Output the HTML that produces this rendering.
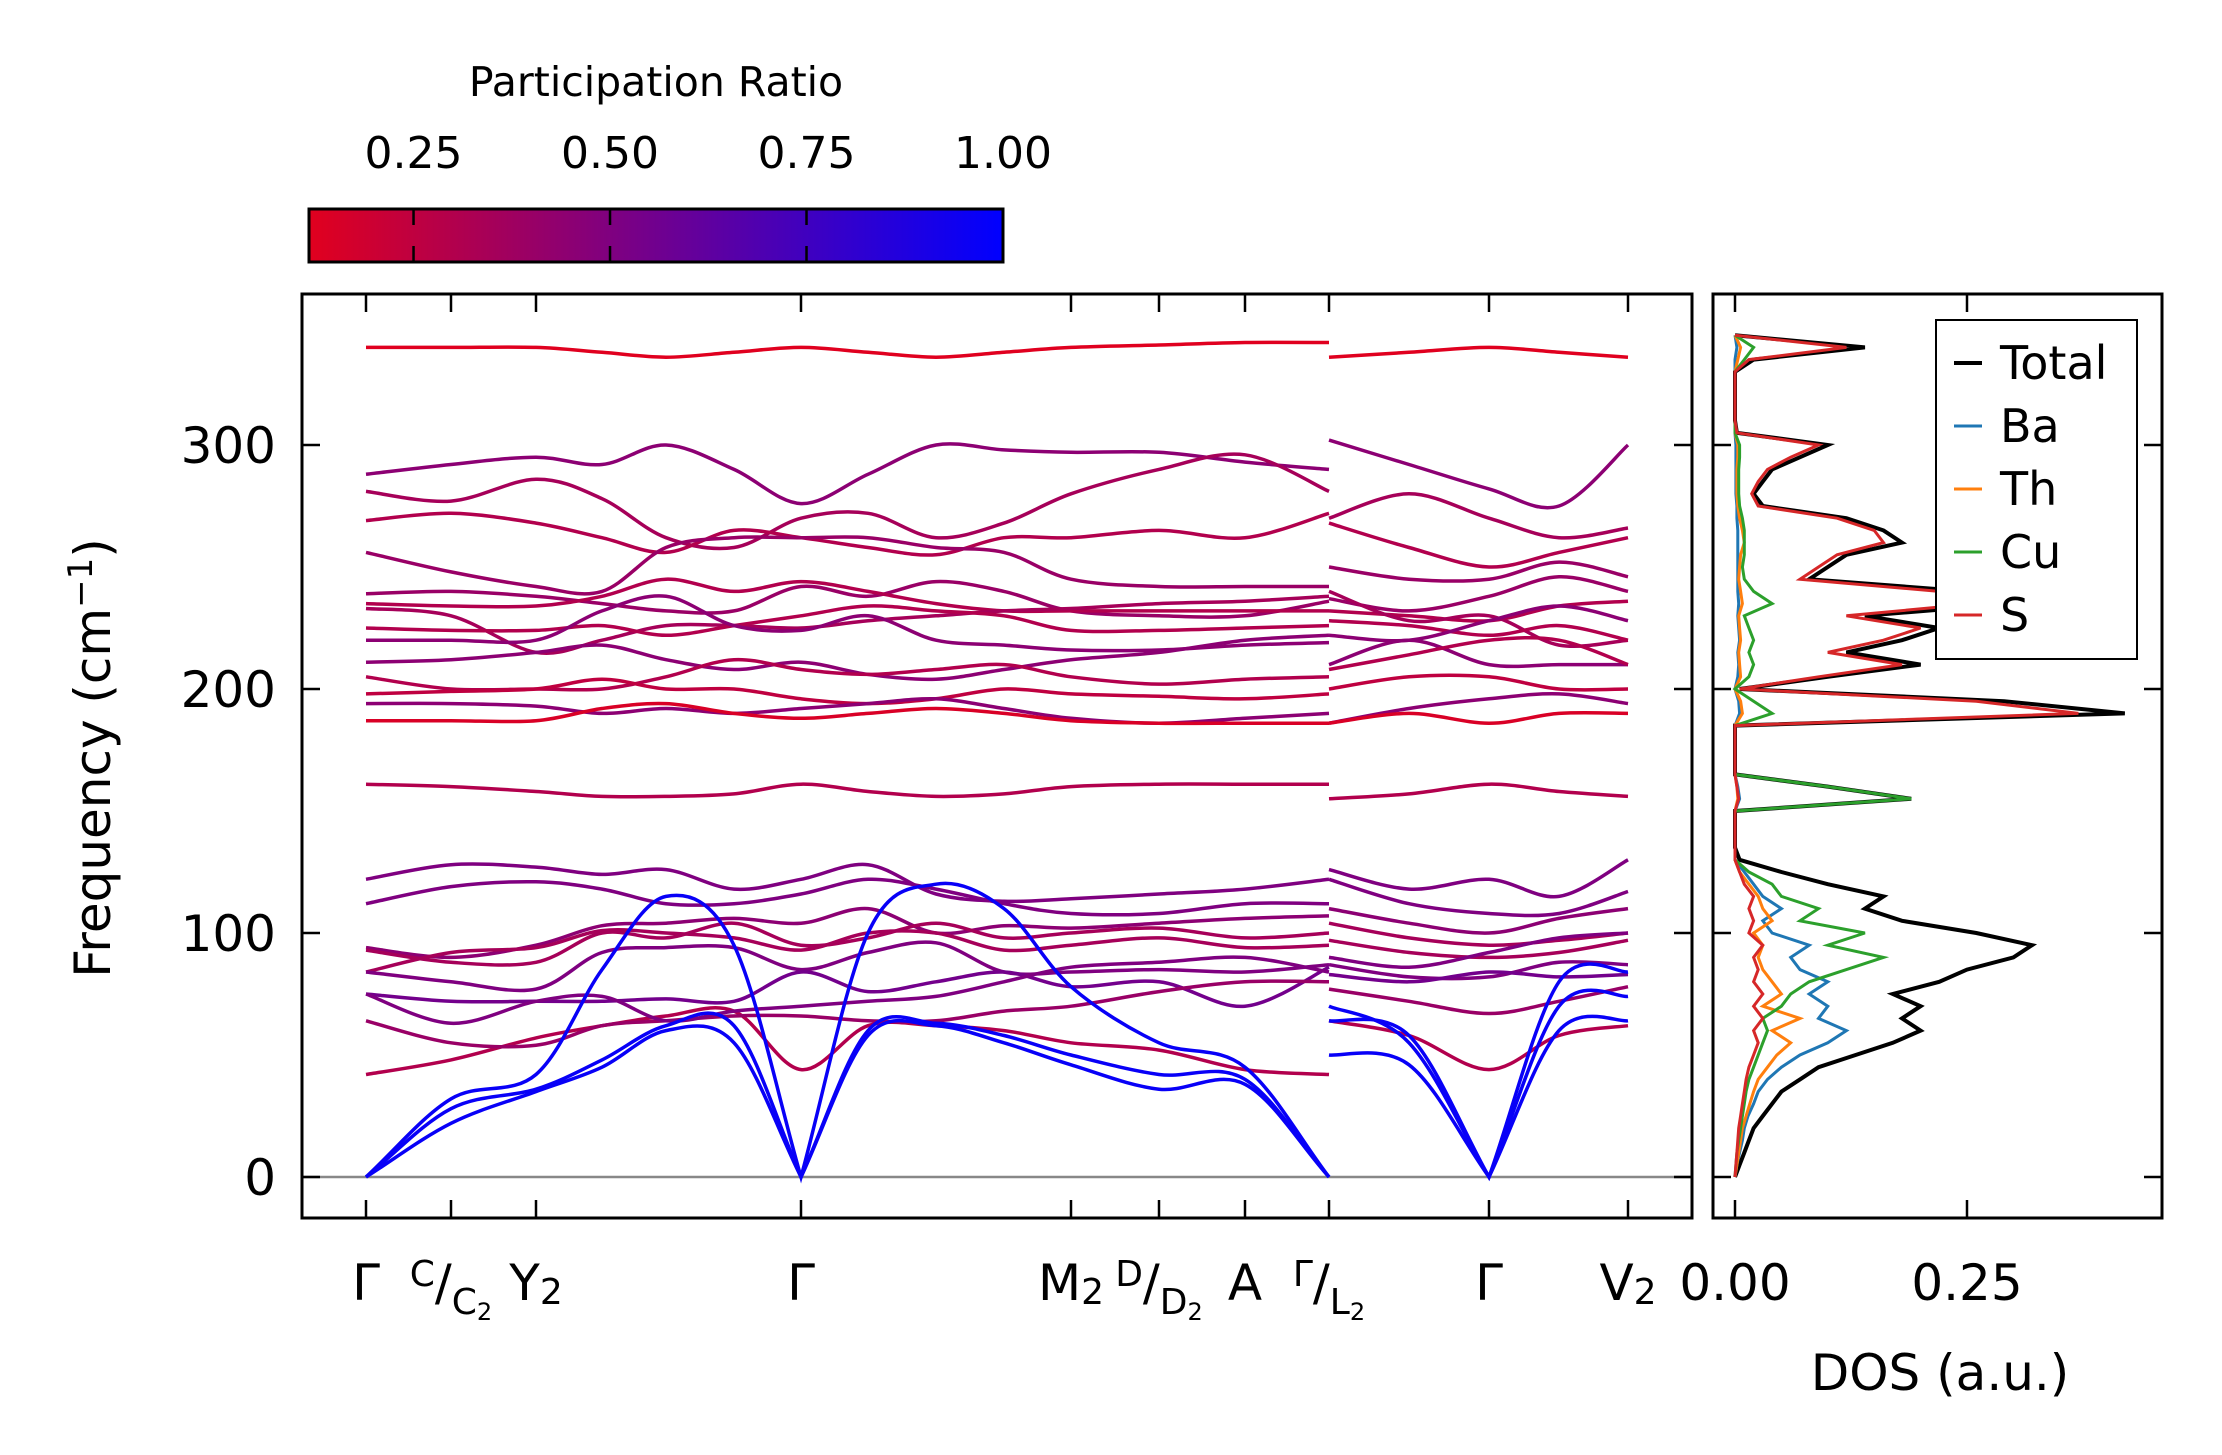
<!DOCTYPE html>
<html><head><meta charset="utf-8"><style>
html,body{margin:0;padding:0;background:#fff;}
svg{display:block;font-family:"DejaVu Sans","Liberation Sans",sans-serif;}
</style></head><body>
<svg id="chart" width="2222" height="1455" viewBox="0 0 2222 1455" xmlns="http://www.w3.org/2000/svg">
<defs>
<linearGradient id="cmap" x1="0" x2="1" y1="0" y2="0">
<stop offset="0" stop-color="rgb(225,0,30)"/><stop offset="1" stop-color="rgb(0,0,255)"/>
</linearGradient>
</defs>
<g id="colorbar">
<text x="656" y="96" font-size="41" text-anchor="middle">Participation Ratio</text>
<rect x="309" y="209" width="694" height="53" fill="url(#cmap)" stroke="#000" stroke-width="3"/>
<g id="cbticks"></g>
</g>
<g id="main"></g>
<g id="dos"></g>
</svg>
<script>
// ---- data ----
const cbTicks = [0.25, 0.50, 0.75, 1.00];
const yTicks = [0, 100, 200, 300];
const kLabels = ["Γ","C/C2","Y2","Γ","M2","D/D2","A","Γ/L2","Γ","V2"];
const kTickPos = [0, 1, 2, 6, 10, 11, 12, 13, 16, 18]; // sample index of each label
// sample columns: 0..13 left path, 14..18 right path (14 same k as 13)
const bandPR = [0.12,0.45,0.35,0.3,0.4,0.4,0.3,0.35,0.3,0.45,0.45,0.3,0.25,0.45,0.15,0.3,0.5,0.5,0.45,0.35,0.35,0.5,0.55,0.3,0.4,0.5,0.97,0.97,0.97];
const bandFreq = [
[340,340,340,338,336,338,340,338,336,338,340,341,342,342,336,338,340,338,336],
[288,292,295,292,300,290,276,288,300,298,297,297,293,290,302,292,282,275,300],
[281,277,286,278,262,258,270,272,262,268,280,290,296,281,270,280,270,262,266],
[269,272,268,262,256,265,262,258,255,262,262,265,262,272,268,258,250,256,262],
[256,248,242,240,258,262,262,262,258,256,245,242,242,242,250,245,245,252,246],
[239,240,238,235,232,232,242,238,244,240,232,230,230,236,237,232,238,246,240],
[235,234,234,238,245,240,244,240,235,232,232,232,232,232,232,230,228,234,236],
[233,230,215,220,226,226,225,228,230,232,233,235,236,238,240,228,230,218,220],
[225,224,224,226,222,226,230,234,232,230,224,224,225,226,228,226,222,226,220],
[220,220,220,232,238,226,224,230,220,218,216,216,218,219,222,220,228,234,228],
[211,212,215,218,212,208,211,206,204,208,212,215,220,222,210,220,210,210,210],
[205,200,200,200,205,212,208,206,208,210,205,202,204,205,208,214,220,220,210],
[198,199,200,204,200,200,196,194,196,200,198,197,196,198,200,205,205,200,200],
[194,194,193,190,192,190,192,194,196,192,188,186,188,190,186,192,196,198,194],
[187,187,187,192,194,190,188,190,192,190,187,186,186,186,186,190,186,190,190],
[161,160,158,156,156,157,161,158,156,157,160,161,161,161,155,157,161,158,156],
[122,128,127,124,126,118,122,128,116,113,114,116,118,122,126,118,122,115,130],
[112,119,121,118,112,112,116,122,118,112,108,108,112,112,122,112,108,108,117],
[94,90,95,103,104,106,104,110,100,103,102,104,106,107,110,104,100,106,110],
[93,88,88,100,98,104,95,98,104,98,100,102,98,100,104,98,95,97,100],
[84,92,94,101,100,98,93,100,100,93,95,98,94,95,97,92,90,92,97],
[84,80,77,92,94,94,85,92,96,84,84,85,84,87,87,82,82,88,87],
[75,72,72,72,73,72,84,76,80,84,78,80,70,86,83,80,84,82,83],
[42,48,57,62,66,68,44,62,62,60,55,52,44,42,64,58,44,58,62],
[64,55,54,62,64,66,66,64,64,68,70,76,80,80,77,72,67,72,78],
[75,63,72,74,64,68,70,72,74,80,86,88,90,84,90,86,92,98,100],
[0,32,42,85,115,95,0,100,120,110,78,55,45,0,64,58,0,80,84],
[0,28,36,48,62,62,0,60,63,58,50,42,40,0,70,55,0,70,74],
[0,22,35,45,60,55,0,58,62,55,46,36,38,0,50,46,0,60,64]
];
const dosFreq = [0,5,10,15,20,25,30,35,40,45,50,55,60,65,70,75,80,85,90,95,100,105,110,115,120,125,130,135,140,145,150,155,160,165,170,175,180,185,190,195,200,205,210,215,220,225,230,235,240,245,250,255,260,265,270,275,280,285,290,295,300,305,310,315,320,325,330,335,340,345];
const dosTotal = [0,0.005,0.01,0.015,0.02,0.03,0.04,0.05,0.07,0.09,0.13,0.17,0.2,0.18,0.2,0.17,0.22,0.25,0.3,0.32,0.26,0.18,0.14,0.16,0.1,0.05,0.005,0,0,0,0,0.19,0.1,0,0,0,0,0,0.42,0.29,0.005,0.1,0.2,0.12,0.18,0.22,0.14,0.3,0.25,0.08,0.1,0.12,0.18,0.16,0.12,0.03,0.02,0.03,0.04,0.07,0.1,0.002,0,0,0,0,0,0.02,0.14,0];
const dosBa = [0,0.002,0.005,0.008,0.01,0.014,0.02,0.025,0.035,0.05,0.07,0.1,0.12,0.09,0.1,0.08,0.1,0.07,0.06,0.08,0.04,0.03,0.05,0.03,0.02,0.01,0,0,0,0,0,0.005,0.003,0,0,0,0,0,0.005,0.004,0,0.003,0.004,0.003,0.005,0.004,0.003,0.004,0.003,0.003,0.003,0.003,0.003,0.003,0.002,0.002,0.001,0.001,0.001,0.001,0.001,0,0,0,0,0,0,0,0.002,0];
const dosTh = [0,0.002,0.004,0.006,0.008,0.012,0.016,0.02,0.025,0.035,0.045,0.06,0.04,0.07,0.03,0.05,0.04,0.03,0.025,0.03,0.02,0.04,0.03,0.025,0.015,0.005,0,0,0,0,0,0.003,0.002,0,0,0,0,0,0.008,0.006,0,0.006,0.005,0.004,0.006,0.005,0.004,0.008,0.006,0.004,0.005,0.006,0.01,0.008,0.005,0.003,0.002,0.002,0.002,0.003,0.003,0,0,0,0,0,0,0.003,0.006,0];
const dosCu = [0,0.001,0.002,0.004,0.006,0.008,0.01,0.012,0.015,0.02,0.025,0.03,0.035,0.03,0.05,0.06,0.08,0.12,0.16,0.1,0.14,0.07,0.09,0.05,0.04,0.015,0,0,0,0,0,0.19,0.1,0,0,0,0,0,0.04,0.02,0,0.015,0.02,0.015,0.02,0.015,0.01,0.04,0.02,0.01,0.008,0.01,0.01,0.01,0.008,0.005,0.004,0.004,0.004,0.005,0.005,0,0,0,0,0,0,0.01,0.02,0];
const dosS = [0,0.001,0.002,0.003,0.004,0.006,0.008,0.01,0.012,0.015,0.02,0.025,0.02,0.03,0.02,0.03,0.02,0.025,0.02,0.03,0.015,0.02,0.015,0.02,0.01,0.005,0,0,0,0,0,0.004,0.002,0,0,0,0,0,0.37,0.26,0.005,0.09,0.18,0.1,0.16,0.2,0.12,0.26,0.22,0.07,0.09,0.11,0.16,0.15,0.11,0.025,0.018,0.025,0.035,0.06,0.09,0.002,0,0,0,0,0,0.015,0.12,0];
const dosTickVals = [0, 0.25];
const dosSeries = [["Total","#000000",dosTotal],["Ba","#1f77b4",dosBa],["Th","#ff7f0e",dosTh],["Cu","#2ca02c",dosCu],["S","#d62728",dosS]];

// ---- geometry ----
const NS = "http://www.w3.org/2000/svg";
const sampleX = [366,451,536,602,666,734,801,868,936,1004,1071,1159,1245,1329,1329,1409,1489,1559,1628];
function yS(f){ return 1177 - f*2.44; }
function cbX(v){ return 309 + (v-0.117)/(1-0.117)*694; }
function dosX(v){ return 1735 + v*928; }
function prColor(p){ const t=Math.max(0,Math.min(1,(p-0.117)/(1-0.117))); return `rgb(${Math.round(225*(1-t))},0,${Math.round(30+225*t)})`; }
function mk(tag, attrs, parent){ const e=document.createElementNS(NS,tag); for(const k in attrs) e.setAttribute(k,attrs[k]); parent.appendChild(e); return e; }
const Y0 = yS(0);
function smoothPath(pts){
  let d=`M${pts[0][0]},${pts[0][1]}`;
  for(let i=0;i<pts.length-1;i++){
    const p0=pts[Math.max(0,i-1)],p1=pts[i],p2=pts[i+1],p3=pts[Math.min(pts.length-1,i+2)];
    let c1x=p1[0]+(p2[0]-p0[0])/6, c1y=p1[1]+(p2[1]-p0[1])/6;
    let c2x=p2[0]-(p3[0]-p1[0])/6, c2y=p2[1]-(p3[1]-p1[1])/6;
    // cusp at acoustic zero (Γ): approach linearly
    if(Math.abs(p1[1]-Y0)<0.5){ c1x=p1[0]+(p2[0]-p1[0])/3; c1y=p1[1]+(p2[1]-p1[1])/3; }
    if(Math.abs(p2[1]-Y0)<0.5){ c2x=p2[0]-(p2[0]-p1[0])/3; c2y=p2[1]-(p2[1]-p1[1])/3; }
    d+=` C${c1x.toFixed(1)},${c1y.toFixed(1)} ${c2x.toFixed(1)},${c2y.toFixed(1)} ${p2[0]},${p2[1]}`;
  }
  return d;
}

// colorbar ticks
const cbt=document.getElementById('cbticks');
cbTicks.forEach(v=>{
  const x=cbX(v);
  const t1=mk('line',{x1:x,x2:x,y1:209,y2:225,stroke:'#000','stroke-width':2.5},cbt);
  
  
  const t2=mk('line',{x1:x,x2:x,y1:246,y2:262,stroke:'#000','stroke-width':2.5},cbt);
  
  
  const tx=mk('text',{x:x,y:168,'font-size':44,'text-anchor':'middle'},cbt);
  
  
  tx.textContent=v.toFixed(2);
});

// main plot
const g=document.getElementById('main');
const zl=mk('line',{x1:302,x2:1692,y1:yS(0),y2:yS(0),stroke:'#888','stroke-width':2.5},g);


bandFreq.forEach((arr,bi)=>{
  const col=prColor(bandPR[bi]);
  [[0,14],[14,19]].forEach(([a,b])=>{
    const pts=[]; for(let i=a;i<b;i++) pts.push([sampleX[i], +yS(arr[i]).toFixed(1)]);
    const p=mk('path',{d:smoothPath(pts),fill:'none',stroke:col,'stroke-width':3.5},g);
    
    
  });
});
const fr=mk('rect',{x:302,y:294,width:1390,height:924,fill:'none',stroke:'#000','stroke-width':3},g);


yTicks.forEach(v=>{
  const y=yS(v);
  const a=mk('line',{x1:302,x2:320,y1:y,y2:y,stroke:'#000','stroke-width':2.5},g);
  
  
  const b=mk('line',{x1:1674,x2:1692,y1:y,y2:y,stroke:'#000','stroke-width':2.5},g);
  
  
  const t=mk('text',{x:276,y:y+18,'font-size':50,'text-anchor':'end'},g);
  
  
  t.textContent=String(v);
});
const yl=mk('text',{x:0,y:0,'font-size':50,'text-anchor':'middle',transform:'translate(110,758) rotate(-90)'},g);


yl.innerHTML='Frequency (cm<tspan dy="-18" font-size="34">−1</tspan><tspan dy="18">)</tspan>';
kLabels.forEach((lab,i)=>{
  const x=sampleX[kTickPos[i]];
  const a=mk('line',{x1:x,x2:x,y1:294,y2:312,stroke:'#000','stroke-width':2.5},g);
  
  
  const b=mk('line',{x1:x,x2:x,y1:1200,y2:1218,stroke:'#000','stroke-width':2.5},g);
  
  
  const t=mk('text',{x:x,y:1300,'font-size':50,'text-anchor':'middle'},g);
  
  
  if(lab.includes('/')){
    const [top,bot]=lab.split('/');
    t.innerHTML=`<tspan font-size="36" dy="-14">${top}</tspan><tspan dy="14">/</tspan><tspan font-size="36" dy="14">${bot[0]}</tspan><tspan font-size="24" dy="6">${bot.slice(1)}</tspan>`;
  } else if(lab.length>1){
    t.innerHTML=`${lab[0]}<tspan font-size="36" dy="4">${lab.slice(1)}</tspan>`;
  } else t.textContent=lab;
});

// DOS plot
const dg=document.getElementById('dos');
dosSeries.forEach(([name,col,vals])=>{
  const d=vals.map((v,i)=>`${i?'L':'M'}${dosX(v).toFixed(1)},${yS(dosFreq[i]).toFixed(1)}`).join(' ');
  const p=mk('path',{d:d,fill:'none',stroke:col,'stroke-width':name==='Total'?4:3},dg);
  
  
});
const dfr=mk('rect',{x:1713,y:294,width:449,height:924,fill:'none',stroke:'#000','stroke-width':3},dg);


yTicks.forEach(v=>{
  const y=yS(v);
  const a=mk('line',{x1:1713,x2:1731,y1:y,y2:y,stroke:'#000','stroke-width':2.5},dg);
  
  
  const b=mk('line',{x1:2144,x2:2162,y1:y,y2:y,stroke:'#000','stroke-width':2.5},dg);
  
  
});
dosTickVals.forEach(v=>{
  const x=dosX(v);
  const a=mk('line',{x1:x,x2:x,y1:294,y2:312,stroke:'#000','stroke-width':2.5},dg);
  
  
  const b=mk('line',{x1:x,x2:x,y1:1200,y2:1218,stroke:'#000','stroke-width':2.5},dg);
  
  
  const t=mk('text',{x:x,y:1300,'font-size':50,'text-anchor':'middle'},dg);
  
  
  t.textContent=v.toFixed(2);
});
const xl=mk('text',{x:1940,y:1390,'font-size':50,'text-anchor':'middle'},dg);


xl.textContent='DOS (a.u.)';
// legend
const lg=mk('g',{},dg);


const lb=mk('rect',{x:1936,y:320,width:201,height:339,fill:'#fff',stroke:'#000','stroke-width':2},lg);


dosSeries.forEach(([name,col],i)=>{
  const y=363+i*63;
  const l=mk('line',{x1:1954,x2:1982,y1:y,y2:y,stroke:col,'stroke-width':name==='Total'?4:3},lg);
  
  
  const t=mk('text',{x:2000,y:y+16,'font-size':46},lg);
  
  
  t.textContent=name;
});
</script>
</body></html>
